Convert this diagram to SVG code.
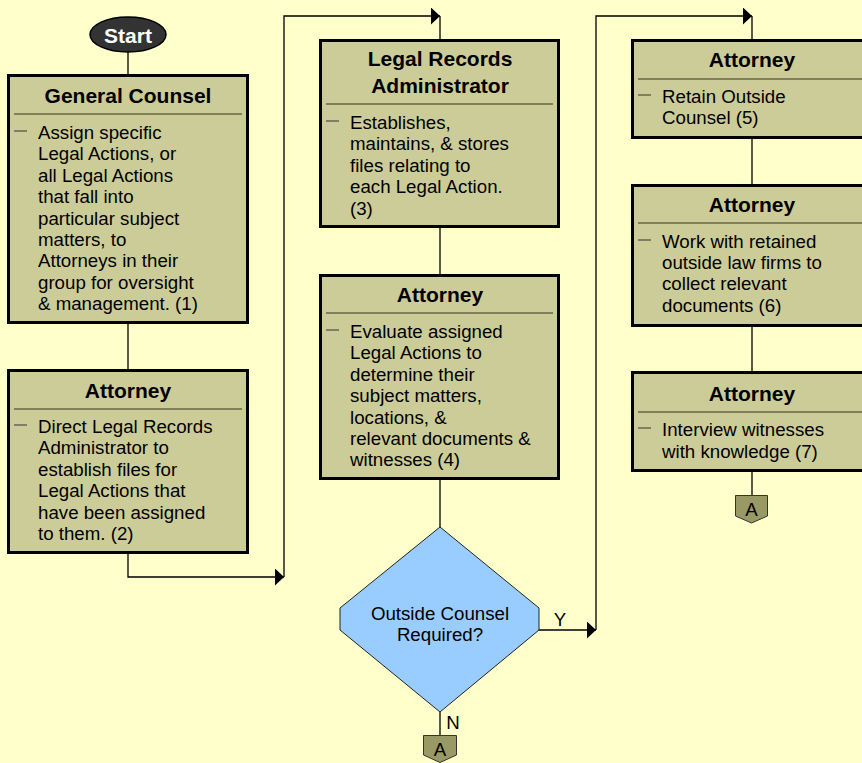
<svg xmlns="http://www.w3.org/2000/svg" width="862" height="763" viewBox="0 0 862 763">
<defs>
<marker id="arr" markerUnits="userSpaceOnUse" markerWidth="10" markerHeight="18" refX="9" refY="8.5" orient="auto">
<path d="M0,0 L9,8.5 L0,17 Z" fill="#000"/>
</marker>
<style>
.box{fill:#CCCC99;stroke:#000;stroke-width:3}
.hdr{stroke:#666644;stroke-width:1.5}
.dash{stroke:#333;stroke-width:1}
.title{font-family:"Liberation Sans",Arial,sans-serif;font-size:21px;font-weight:bold;fill:#000;text-anchor:middle}
.body{font-family:"Liberation Sans",Arial,sans-serif;font-size:18.7px;fill:#000}
.lbl{font-family:"Liberation Sans",Arial,sans-serif;font-size:18.7px;fill:#000}
.conn path{fill:none;stroke:#000;stroke-width:1.3}
.opc{fill:#999966;stroke:#333;stroke-width:1}
</style>
</defs>
<rect x="0" y="0" width="862" height="763" fill="#FFFFCC"/>

<g id="connectors" class="conn">
<path d="M128,52 V75"/>
<path d="M128,323 V370"/>
<path d="M128,553 V577 H284" marker-end="url(#arr)"/>
<path d="M284,577 V16 H440" marker-end="url(#arr)"/>
<path d="M440,16 V40"/>
<path d="M440,227 V275"/>
<path d="M440,479 V527"/>
<path d="M539,630 H596" marker-end="url(#arr)"/>
<path d="M596,630 V16 H752" marker-end="url(#arr)"/>
<path d="M752,16 V40"/>
<path d="M752,137 V185"/>
<path d="M752,326 V372"/>
<path d="M752,471 V495"/>
<path d="M440,712 V735"/>
<text class="lbl" x="560" y="626" text-anchor="middle">Y</text>
<text class="lbl" x="453" y="729" text-anchor="middle">N</text>
</g>

<g id="start">
<ellipse cx="128" cy="34.5" rx="38" ry="17.5" fill="#333333" stroke="#000" stroke-width="1.5"/>
<text x="128" y="42.5" font-family="'Liberation Sans',Arial,sans-serif" font-size="21" font-weight="bold" fill="#fff" text-anchor="middle">Start</text>
</g>

<g id="general-counsel">
<rect class="box" x="8.5" y="75.5" width="239" height="247"/>
<text class="title" x="128" y="103">General Counsel</text>
<line class="hdr" x1="14" y1="114" x2="242" y2="114"/>
<line class="dash" x1="14" y1="131" x2="27" y2="131"/>
<text class="body">
<tspan x="38" y="139">Assign specific</tspan>
<tspan x="38" y="160.4">Legal Actions, or</tspan>
<tspan x="38" y="181.8">all Legal Actions</tspan>
<tspan x="38" y="203.2">that fall into</tspan>
<tspan x="38" y="224.6">particular subject</tspan>
<tspan x="38" y="246">matters, to</tspan>
<tspan x="38" y="267.4">Attorneys in their</tspan>
<tspan x="38" y="288.8">group for oversight</tspan>
<tspan x="38" y="310.2">&amp; management. (1)</tspan>
</text>
</g>

<g id="attorney-2">
<rect class="box" x="8.5" y="370.5" width="239" height="182"/>
<text class="title" x="128" y="398">Attorney</text>
<line class="hdr" x1="14" y1="409" x2="242" y2="409"/>
<line class="dash" x1="14" y1="425" x2="27" y2="425"/>
<text class="body">
<tspan x="38" y="433">Direct Legal Records</tspan>
<tspan x="38" y="454.4">Administrator to</tspan>
<tspan x="38" y="475.8">establish files for</tspan>
<tspan x="38" y="497.2">Legal Actions that</tspan>
<tspan x="38" y="518.6">have been assigned</tspan>
<tspan x="38" y="540">to them. (2)</tspan>
</text>
</g>

<g id="records-admin">
<rect class="box" x="320.5" y="40.5" width="238" height="186"/>
<text class="title" x="440" y="66">Legal Records</text>
<text class="title" x="440" y="93">Administrator</text>
<line class="hdr" x1="326" y1="104" x2="553" y2="104"/>
<line class="dash" x1="326" y1="121" x2="339" y2="121"/>
<text class="body">
<tspan x="350" y="129">Establishes,</tspan>
<tspan x="350" y="150.4">maintains, &amp; stores</tspan>
<tspan x="350" y="171.8">files relating to</tspan>
<tspan x="350" y="193.2">each Legal Action.</tspan>
<tspan x="350" y="214.6">(3)</tspan>
</text>
</g>

<g id="attorney-4">
<rect class="box" x="320.5" y="275.5" width="238" height="203"/>
<text class="title" x="440" y="302">Attorney</text>
<line class="hdr" x1="326" y1="313" x2="553" y2="313"/>
<line class="dash" x1="326" y1="330" x2="339" y2="330"/>
<text class="body">
<tspan x="350" y="338">Evaluate assigned</tspan>
<tspan x="350" y="359.4">Legal Actions to</tspan>
<tspan x="350" y="380.8">determine their</tspan>
<tspan x="350" y="402.2">subject matters,</tspan>
<tspan x="350" y="423.6">locations, &amp;</tspan>
<tspan x="350" y="445">relevant documents &amp;</tspan>
<tspan x="350" y="466.4">witnesses (4)</tspan>
</text>
</g>

<g id="decision">
<polygon points="440,527 539,608 539,630 440,712 340,630 340,608" fill="#99CCFF" stroke="#222" stroke-width="1"/>
<text class="lbl" x="440" y="620" text-anchor="middle">Outside Counsel</text>
<text class="lbl" x="440" y="641" text-anchor="middle">Required?</text>
</g>

<g id="attorney-5">
<rect class="box" x="632.5" y="40.5" width="239" height="97"/>
<text class="title" x="752" y="67">Attorney</text>
<line class="hdr" x1="638" y1="79" x2="866" y2="79"/>
<line class="dash" x1="638" y1="95" x2="651" y2="95"/>
<text class="body">
<tspan x="662" y="102.5">Retain Outside</tspan>
<tspan x="662" y="123.9">Counsel (5)</tspan>
</text>
</g>

<g id="attorney-6">
<rect class="box" x="632.5" y="185.5" width="239" height="140"/>
<text class="title" x="752" y="212">Attorney</text>
<line class="hdr" x1="638" y1="223" x2="866" y2="223"/>
<line class="dash" x1="638" y1="240" x2="651" y2="240"/>
<text class="body">
<tspan x="662" y="247.5">Work with retained</tspan>
<tspan x="662" y="268.9">outside law firms to</tspan>
<tspan x="662" y="290.3">collect relevant</tspan>
<tspan x="662" y="311.7">documents (6)</tspan>
</text>
</g>

<g id="attorney-7">
<rect class="box" x="632.5" y="372.5" width="239" height="98"/>
<text class="title" x="752" y="401">Attorney</text>
<line class="hdr" x1="638" y1="412" x2="866" y2="412"/>
<line class="dash" x1="638" y1="428" x2="651" y2="428"/>
<text class="body">
<tspan x="662" y="435.5">Interview witnesses</tspan>
<tspan x="662" y="457.5">with knowledge (7)</tspan>
</text>
</g>

<g id="offpage-a-1">
<polygon class="opc" points="735.5,495.5 767.5,495.5 767.5,516 751.5,523 735.5,516"/>
<text class="lbl" x="751.5" y="516" text-anchor="middle">A</text>
</g>

<g id="offpage-a-2">
<polygon class="opc" points="423.5,735.5 456.5,735.5 456.5,755 440,762.5 423.5,755"/>
<text class="lbl" x="440" y="756" text-anchor="middle">A</text>
</g>
</svg>
